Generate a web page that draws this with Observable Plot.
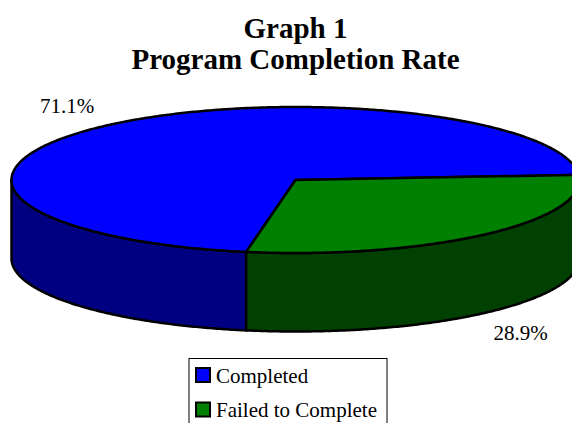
<!DOCTYPE html>
<html>
<head>
<meta charset="utf-8">
<script src="https://cdn.jsdelivr.net/npm/d3@7"></script>
<script src="https://cdn.jsdelivr.net/npm/@observablehq/plot@0.6"></script>
<style>
html,body{margin:0;padding:0;background:#fff;overflow:hidden}
svg{display:block}
</style>
</head>
<body>
<div id="chart"></div>
<script>
const categories = ["Completed", "Failed to Complete"];
const shares = [71.1, 28.9];
const shareLabels = ["71.1%", "28.9%"];
const topColors = ["#0000ff", "#008000"];
const sideColors = ["#000080", "#004000"];
const titleLines = ["Graph 1", "Program Completion Rate"];

const W = 572, H = 423, FONT = "'Liberation Serif','Times New Roman',serif";
const cx = 295, cy = 179.5, rx = 284, ry = 73, depth = 78.5;
const firstStart = 100; // degrees clockwise on screen, where "Completed" begins

const total = d3.sum(shares);
let acc = firstStart;
const slices = shares.map((v, i) => {
  const a0 = acc, a1 = acc + v / total * 360;
  acc = a1;
  return {i, a0, a1};
});
const arcPts = (a0, a1, dy = 0) => {
  const n = Math.max(2, Math.ceil(Math.abs(a1 - a0) * 2));
  return d3.range(n + 1).map(k => {
    const t = (a0 + (a1 - a0) * k / n) * Math.PI / 180;
    return {x: cx + rx * Math.cos(t), y: cy + dy + ry * Math.sin(t)};
  });
};
const topPath = s => [{x: cx, y: cy}, ...arcPts(s.a0, s.a1)];
// visible front wall: portions of the rim whose angle falls in 0..180 (mod 360)
const wallPath = s => {
  const parts = [];
  for (const off of [0, 360]) {
    const a0 = Math.max(s.a0, off), a1 = Math.min(s.a1, off + 180);
    if (a1 > a0) parts.push([...arcPts(a0, a1), ...arcPts(a1, a0, depth)]);
  }
  return parts;
};

const shape = (pts, fill) => Plot.line(pts, {
  x: "x", y: "y", curve: "linear-closed", fill, stroke: "#000", strokeWidth: 2.5, strokeLinejoin: "round"
});
const marks = [];
slices.forEach(s => wallPath(s).forEach(p => marks.push(shape(p, sideColors[s.i]))));
slices.forEach(s => marks.push(shape(topPath(s), topColors[s.i])));

marks.push(Plot.text(titleLines, {
  x: () => 295, y: (d, i) => 37 + i * 31, text: d => d, fontSize: 29, fontWeight: "bold", fill: "#000", lineAnchor: "bottom"
}));
marks.push(Plot.text(shareLabels, {
  x: (d, i) => [66.5, 520][i], y: (d, i) => [106, 333][i], text: d => d, fontSize: 21, fill: "#000"
}));
// legend
marks.push(Plot.rect([0], {x1: () => 189, x2: () => 387, y1: () => 358.5, y2: () => 440, fill: "#fff", stroke: "#000", strokeWidth: 1}));
marks.push(Plot.rect(categories, {
  x1: () => 196, x2: () => 210, y1: (d, i) => 368 + i * 34.5, y2: (d, i) => 382 + i * 34.5,
  fill: (d, i) => topColors[i], stroke: "#000", strokeWidth: 2
}));
marks.push(Plot.text(categories, {
  x: () => 215.5, y: (d, i) => 376 + i * 34, text: d => d, textAnchor: "start", fontSize: 21, fill: "#000"
}));

const plot = Plot.plot({
  width: W, height: H, margin: 0, style: {background: "#fff", fontFamily: FONT},
  x: {type: "linear", domain: [0, W], range: [0, W], axis: null},
  y: {type: "linear", domain: [0, H], range: [0, H], axis: null},
  color: {type: "identity"},
  marks
});
document.getElementById("chart").appendChild(plot);
</script>
</body>
</html>
